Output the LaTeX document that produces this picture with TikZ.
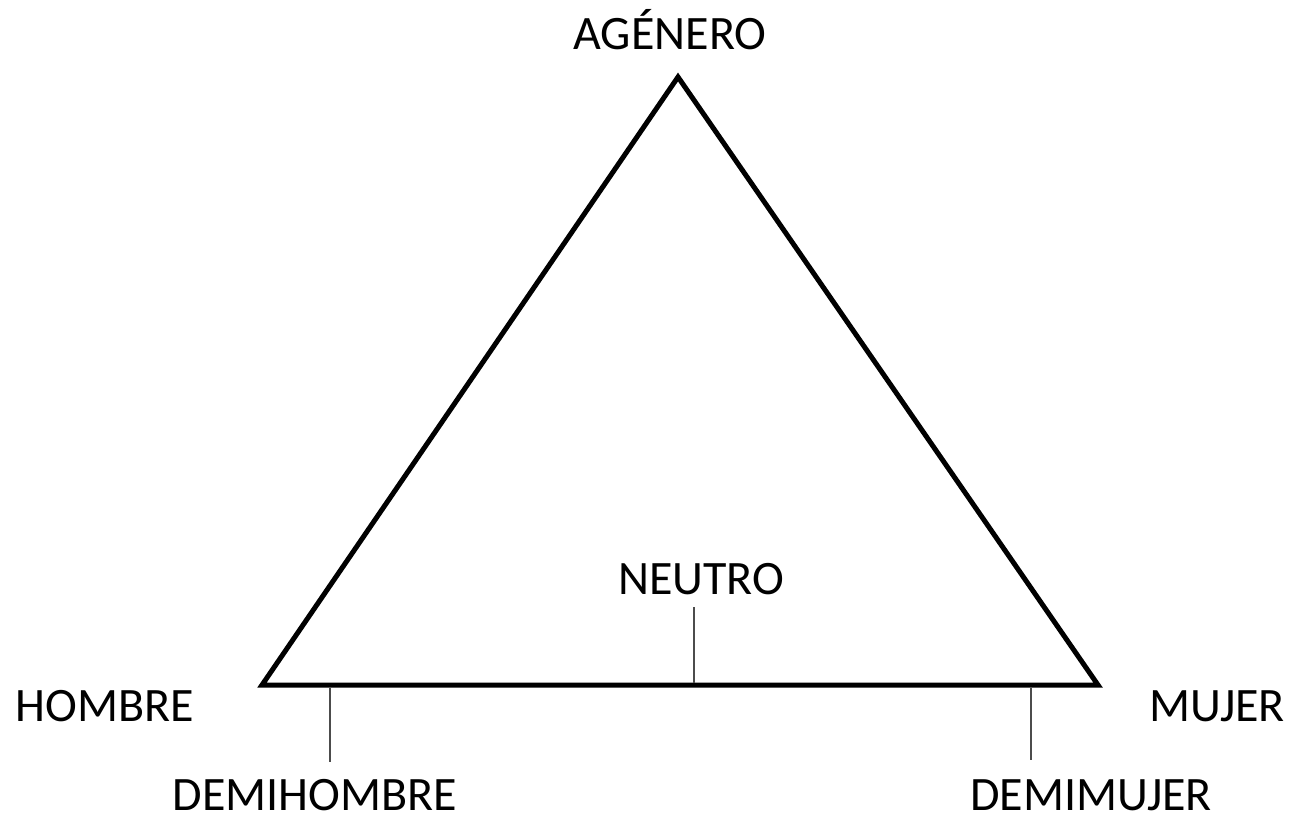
\documentclass[tikz,border=0pt]{standalone}
\usepackage{fontspec}
\setmainfont{Carlito}

\begin{document}
\begin{tikzpicture}[
    x=1pt, y=-1pt,
    label/.style={anchor=base, inner sep=0pt, font=\fontsize{48}{54}\selectfont},
    side/.style={line width=5pt, line join=miter, black},
    tick/.style={line width=1.5pt, black!70}
]
    \useasboundingbox (0,0) rectangle (1291,821);

    % --- Triangle corners ---
    \coordinate (H) at (262, 685);
    \coordinate (A) at (678, 77);
    \coordinate (M) at (1098, 685);

    \draw[side] (H) -- (A) -- (M) -- cycle;

    % --- Corner labels ---
    \node[label] (agenero) at (670, 50) {AGÉNERO};
    \node[label] (hombre) at (105, 721) {HOMBRE};
    \node[label] (mujer) at (1217, 721) {MUJER};

    % --- Ticks on the base ---
    \coordinate (dh1) at (330, 688);
    \coordinate (dh2) at (330, 762);
    \coordinate (n1) at (694, 683);
    \coordinate (n2) at (694, 607);
    \coordinate (dm1) at (1031, 688);
    \coordinate (dm2) at (1031, 760);

    \draw[tick] (dh1) -- (dh2);
    \draw[tick] (n1) -- (n2);
    \draw[tick] (dm1) -- (dm2);

    \node[label] (neutro) at (701, 594) {NEUTRO};
    \node[label] (demihombre) at (315, 810) {DEMIHOMBRE};
    \node[label] (demimujer) at (1091, 810) {DEMIMUJER};

\end{tikzpicture}
\end{document}
